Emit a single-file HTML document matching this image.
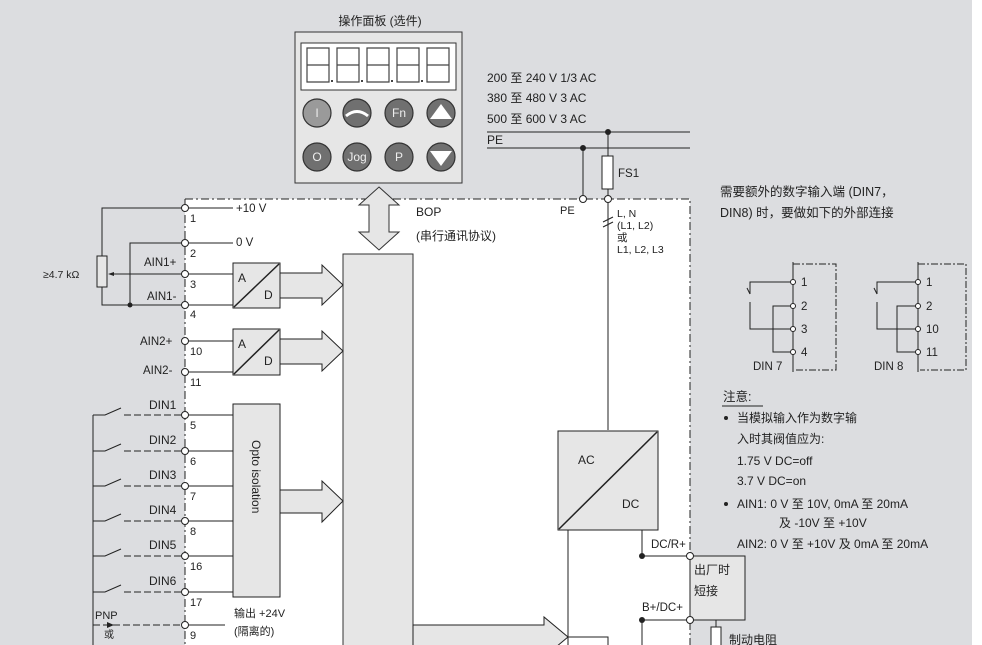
<!DOCTYPE html>
<html><head><meta charset="utf-8"><style>
html,body{margin:0;padding:0;background:#fff}
svg{display:block}
text{font-family:"Liberation Sans","Noto Sans CJK SC",sans-serif;fill:#222}
</style></head><body>
<svg width="982" height="645" viewBox="0 0 982 645" xmlns="http://www.w3.org/2000/svg" font-size="11">
<rect x="0" y="0" width="972" height="645" fill="#dcdde0"/>
<rect x="185" y="199" width="505" height="446" fill="#fff"/>
<g stroke="#222" stroke-width="1" fill="none" stroke-dasharray="8,3,2,3">
<path d="M185 199 H690 V645"/><path d="M185 199 V645"/>
</g>

<!-- operator panel -->
<text x="380" y="25" text-anchor="middle" font-size="12">操作面板 (选件)</text>
<rect x="295" y="32" width="167" height="151" fill="#e6e6e6" stroke="#333"/>
<rect x="301" y="43" width="155" height="47" fill="#fff" stroke="#333"/>
<g stroke="#444" stroke-width="1.2" fill="none">
<g id="dg"><path d="M307 48 h22 v17 h-22 z M307 65 v17 h22 v-17"/></g>
<use href="#dg" x="30"/><use href="#dg" x="60"/><use href="#dg" x="90"/><use href="#dg" x="120"/>
</g>
<g fill="#444"><rect x="331" y="80" width="2" height="2"/><rect x="361" y="80" width="2" height="2"/><rect x="391" y="80" width="2" height="2"/><rect x="421" y="80" width="2" height="2"/></g>
<g stroke="#333" stroke-width="1.2">
<circle cx="317" cy="113" r="14" fill="#9a9a9a"/><circle cx="357" cy="113" r="14" fill="#707070"/><circle cx="399" cy="113" r="14" fill="#707070"/><circle cx="441" cy="113" r="14" fill="#707070"/>
<circle cx="317" cy="157" r="14" fill="#707070"/><circle cx="357" cy="157" r="14" fill="#707070"/><circle cx="399" cy="157" r="14" fill="#707070"/><circle cx="441" cy="157" r="14" fill="#707070"/>
</g>
<path d="M346 116 q11 -9 22 0" stroke="#fff" stroke-width="3" fill="none"/>
<polygon points="441,104 452,119 430,119" fill="#fff"/>
<polygon points="441,166 452,151 430,151" fill="#fff"/>
<g font-size="12" text-anchor="middle"><text x="317" y="117" style="fill:#eee">I</text><text x="399" y="117" style="fill:#eee">Fn</text>
<text x="317" y="161" style="fill:#eee">O</text><text x="357" y="161" style="fill:#eee">Jog</text><text x="399" y="161" style="fill:#eee">P</text></g>

<!-- BOP double arrow -->
<polygon points="379,187 399,205 389,205 389,232 399,232 379,250 359,232 369,232 369,205 359,205" fill="#e6e6e6" stroke="#333"/>
<text x="416" y="216" font-size="12">BOP</text><text x="416" y="240" font-size="12">(串行通讯协议)</text>

<!-- bus -->
<rect x="343" y="254" width="70" height="400" fill="#e6e6e6" stroke="#333"/>

<!-- supply -->
<g font-size="12"><text x="487" y="82">200 至 240 V 1/3 AC</text>
<text x="487" y="102">380 至 480 V 3 AC</text>
<text x="487" y="123">500 至 600 V 3 AC</text>
<text x="487" y="144">PE</text></g>
<g stroke="#222" fill="none">
<path d="M487 132 H690 M487 148 H690"/>
<path d="M583 148 V199 M608 132 V156 M608 189 V430"/>
<rect x="602" y="156" width="11" height="33" fill="#fff"/>
<path d="M603 222 l10 -5 M603 227 l10 -5"/>
</g>
<circle cx="608" cy="132" r="3" fill="#222"/><circle cx="583" cy="148" r="3" fill="#222"/>
<circle cx="583" cy="199" r="3.5" fill="#fff" stroke="#222"/><circle cx="608" cy="199" r="3.5" fill="#fff" stroke="#222"/>
<text x="618" y="177" font-size="11.5">FS1</text><text x="560" y="214">PE</text>
<text x="617" y="217" font-size="10.5">L, N</text><text x="617" y="229" font-size="10.5">(L1, L2)</text><text x="617" y="241" font-size="10.5">或</text><text x="617" y="253" font-size="10.5">L1, L2, L3</text>

<!-- AC/DC -->
<rect x="558" y="431" width="100" height="99" fill="#e6e6e6" stroke="#222"/>
<path d="M559 529 L657 432" stroke="#222" stroke-width="1.5"/>
<text x="578" y="464" font-size="12">AC</text><text x="622" y="508" font-size="12">DC</text>
<g stroke="#222" fill="none"><path d="M568 530 V645 M642 530 V556 H690 M642 620 V645 M642 620 H690"/></g>
<circle cx="642" cy="556" r="3" fill="#222"/><circle cx="642" cy="620" r="3" fill="#222"/>
<rect x="690" y="556" width="55" height="64" fill="#e6e6e6" stroke="#222"/>
<circle cx="690" cy="556" r="3.5" fill="#fff" stroke="#222"/><circle cx="690" cy="620" r="3.5" fill="#fff" stroke="#222"/>
<text x="651" y="548" font-size="11.5">DC/R+</text><text x="642" y="611" font-size="11.5">B+/DC+</text>
<text x="694" y="574" font-size="12">出厂时</text><text x="694" y="595" font-size="12">短接</text>
<path d="M716 620 V627" stroke="#222"/><rect x="711" y="627" width="10" height="25" fill="#fff" stroke="#222"/>
<text x="729" y="644" font-size="12">制动电阻</text>
<polygon points="413,625 544,625 544,617 568,637 544,657 413,657" fill="#e6e6e6" stroke="#222"/>
<rect x="568" y="637" width="40" height="20" fill="#fff" stroke="#222"/>

<!-- analog section -->
<g stroke="#222" fill="none">
<path d="M185 208 H233 M185 243 H233 M185 274 H233 M185 305 H233 M185 341 H233 M185 372 H233"/>
<path d="M185 208 H102 V256 M102 287 V305 H185 M185 274 H110 M130 305 V243 H185"/>
</g>
<rect x="97" y="256" width="10" height="31" fill="#e6e6e6" stroke="#222"/>
<polygon points="108,274 114,272 114,276" fill="#222"/>
<circle cx="130" cy="305" r="2.5" fill="#222"/>
<text x="43" y="278" font-size="10.5">≥4.7 kΩ</text>
<rect x="233" y="263" width="47" height="45" fill="#e6e6e6" stroke="#222"/><path d="M234 307 L279 264" stroke="#222" stroke-width="1.5"/>
<text x="238" y="282" font-size="12">A</text><text x="264" y="299" font-size="12">D</text>
<rect x="233" y="329" width="47" height="46" fill="#e6e6e6" stroke="#222"/><path d="M234 374 L279 330" stroke="#222" stroke-width="1.5"/>
<text x="238" y="348" font-size="12">A</text><text x="264" y="365" font-size="12">D</text>
<polygon points="280,273 322,273 322,265 343,285 322,305 322,298 280,298" fill="#e6e6e6" stroke="#222"/>
<polygon points="280,339 322,339 322,331 343,351 322,371 322,364 280,364" fill="#e6e6e6" stroke="#222"/>
<text x="236" y="212" font-size="11.5">+10 V</text><text x="236" y="246" font-size="11.5">0 V</text>
<g font-size="11.5"><text x="144" y="266">AIN1+</text><text x="147" y="300">AIN1-</text>
<text x="140" y="345">AIN2+</text><text x="143" y="374">AIN2-</text></g>

<!-- digital -->
<rect x="233" y="404" width="47" height="193" fill="#e6e6e6" stroke="#222"/>
<text transform="translate(252,440) rotate(90)" font-size="12">Opto isolation</text>
<polygon points="280,490 322,490 322,481 343,501 322,522 322,513 280,513" fill="#e6e6e6" stroke="#222"/>
<g stroke="#222" fill="none">
<path d="M93 415 V645"/>
<path d="M185 415 H233 M185 451 H233 M185 486 H233 M185 521 H233 M185 556 H233 M185 592 H233 M185 625 H225"/>
<g id="sw"><path d="M93 415 H105 L121 408"/><path d="M124 415 H185" stroke-dasharray="7,3"/></g>
<use href="#sw" y="36"/><use href="#sw" y="71"/><use href="#sw" y="106"/><use href="#sw" y="141"/><use href="#sw" y="177"/>
<path d="M93 625 H185" stroke-dasharray="7,3"/>
</g>
<polygon points="107,622 114,625 107,628" fill="#222"/>
<g font-size="12"><text x="149" y="409">DIN1</text><text x="149" y="444">DIN2</text><text x="149" y="479">DIN3</text><text x="149" y="514">DIN4</text><text x="149" y="549">DIN5</text><text x="149" y="585">DIN6</text></g>
<text x="95" y="619" font-size="11">PNP</text><text x="104" y="638" font-size="10">或</text>
<text x="234" y="617" font-size="11">输出 +24V</text><text x="234" y="635" font-size="11">(隔离的)</text>

<!-- terminals -->
<g fill="#fff" stroke="#222">
<circle cx="185" cy="208" r="3.5"/><circle cx="185" cy="243" r="3.5"/><circle cx="185" cy="274" r="3.5"/><circle cx="185" cy="305" r="3.5"/><circle cx="185" cy="341" r="3.5"/><circle cx="185" cy="372" r="3.5"/>
<circle cx="185" cy="415" r="3.5"/><circle cx="185" cy="451" r="3.5"/><circle cx="185" cy="486" r="3.5"/><circle cx="185" cy="521" r="3.5"/><circle cx="185" cy="556" r="3.5"/><circle cx="185" cy="592" r="3.5"/><circle cx="185" cy="625" r="3.5"/>
</g>
<g font-size="11"><text x="190" y="222">1</text><text x="190" y="257">2</text><text x="190" y="288">3</text><text x="190" y="318">4</text><text x="190" y="355">10</text><text x="190" y="386">11</text>
<text x="190" y="429">5</text><text x="190" y="465">6</text><text x="190" y="500">7</text><text x="190" y="535">8</text><text x="190" y="570">16</text><text x="190" y="606">17</text><text x="190" y="639">9</text></g>

<!-- right panel -->
<text x="720" y="196" font-size="12.5">需要额外的数字输入端 (DIN7，</text>
<text x="720" y="217" font-size="12.5">DIN8) 时，要做如下的外部连接</text>
<g stroke="#222" fill="none" stroke-dasharray="7,2,2,2">
<path d="M793 264 H836 V370 H795"/><path d="M918 264 H966 V370 H920"/>
</g>
<g stroke="#222" fill="none">
<path d="M793 262 V372 M918 262 V372"/>
<path d="M793 282 H750 V294 M750 302 V329 H793 M793 306 H773 V352 H793 M750 294 l-3 -6"/>
<path d="M918 282 H877 V294 M877 302 V329 H918 M918 306 H897 V352 H918 M877 294 l-3 -6"/>
</g>
<g fill="#fff" stroke="#222"><circle cx="793" cy="282" r="2.5"/><circle cx="793" cy="306" r="2.5"/><circle cx="793" cy="329" r="2.5"/><circle cx="793" cy="352" r="2.5"/>
<circle cx="918" cy="282" r="2.5"/><circle cx="918" cy="306" r="2.5"/><circle cx="918" cy="329" r="2.5"/><circle cx="918" cy="352" r="2.5"/></g>
<g font-size="11.5"><text x="801" y="286">1</text><text x="801" y="310">2</text><text x="801" y="333">3</text><text x="801" y="356">4</text>
<text x="926" y="286">1</text><text x="926" y="310">2</text><text x="926" y="333">10</text><text x="926" y="356">11</text>
<text x="753" y="370">DIN 7</text><text x="874" y="370">DIN 8</text></g>
<text x="723" y="401" font-size="12.5">注意:</text><path d="M722 406 H763" stroke="#222"/>
<circle cx="726" cy="418" r="2" fill="#222"/><circle cx="726" cy="504" r="2" fill="#222"/>
<g font-size="12"><text x="737" y="422">当模拟输入作为数字输</text><text x="737" y="443">入时其阀值应为:</text>
<text x="737" y="465">1.75 V DC=off</text><text x="737" y="485">3.7 V DC=on</text>
<text x="737" y="508">AIN1: 0 V 至 10V, 0mA 至 20mA</text><text x="779" y="527">及 -10V 至 +10V</text>
<text x="737" y="548">AIN2: 0 V 至 +10V 及 0mA 至 20mA</text></g>
</svg>
</body></html>
